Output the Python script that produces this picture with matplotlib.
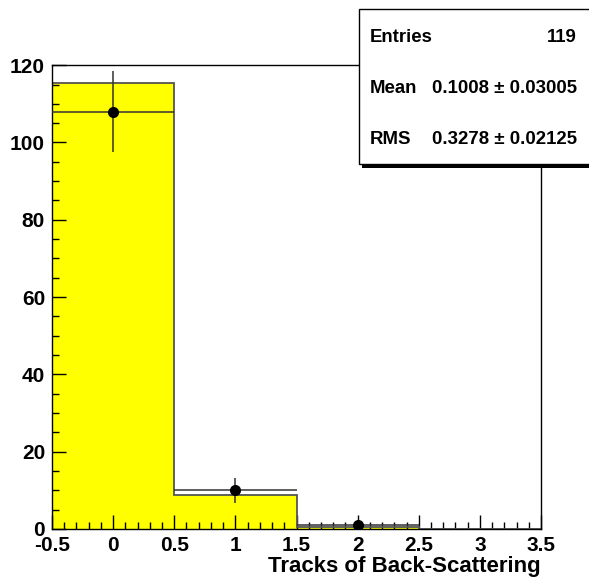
import numpy as np
import matplotlib.pyplot as plt
from matplotlib.ticker import MultipleLocator
from matplotlib.patches import Rectangle

plt.rcParams['font.family'] = ['Liberation Sans', 'DejaVu Sans']
plt.rcParams['font.weight'] = 'bold'

# histogram contents
bin_edges = [-0.5, 0.5, 1.5, 2.5, 3.5]
bin_centers = [0, 1, 2]
filled_counts = [115.3, 8.8, 0.4, 0.0]
point_counts = [108, 10, 1]

stat_labels = ["Entries", "Mean", "RMS"]
stat_values = ["119", "0.1008 \u00b1 0.03005", "0.3278 \u00b1 0.02125"]

fig = plt.figure(figsize=(5.89, 5.77), dpi=100)
ax = fig.add_axes([0.0883, 0.0832, 0.8302, 0.8038])

# yellow filled histogram
ax.stairs(filled_counts, bin_edges, fill=True, color='#ffff00', zorder=1)
ax.stairs(filled_counts, bin_edges, color='#555555', lw=1.3, zorder=2)

# points with poisson errors, x error = half bin width
yerr = np.sqrt(point_counts)
ax.errorbar(bin_centers, point_counts, xerr=0.5, yerr=yerr, fmt='o',
            color='black', ms=7, ecolor='#333333', elinewidth=1.1,
            capsize=0, zorder=3)

ax.set_xlim(-0.5, 3.5)
ax.set_ylim(0, 120)
ax.xaxis.set_minor_locator(MultipleLocator(0.1))
ax.yaxis.set_major_locator(MultipleLocator(20))
ax.yaxis.set_minor_locator(MultipleLocator(5))
ax.set_xticks([-0.5, 0, 0.5, 1, 1.5, 2, 2.5, 3, 3.5])
ax.set_xticklabels(['-0.5', '0', '0.5', '1', '1.5', '2', '2.5', '3', '3.5'])
ax.tick_params(which='both', direction='in', top=False, right=False,
               width=1.0, color='black')
ax.tick_params(axis='x', which='major', length=10, pad=5, labelsize=15)
ax.tick_params(axis='y', which='major', length=10, pad=5, labelsize=15)
ax.tick_params(which='minor', length=5)
for lab in ax.get_xticklabels() + ax.get_yticklabels():
    lab.set_fontweight('bold')
for sp in ax.spines.values():
    sp.set_linewidth(1.0)

ax.set_xlabel("Tracks of Back-Scattering", fontsize=16, fontweight='bold',
              loc='right', labelpad=1)

# statistics box with shadow
fig.patches.append(Rectangle((0.615, 0.708), 0.39, 0.273, transform=fig.transFigure,
                             facecolor='black', edgecolor='none', zorder=5))
fig.patches.append(Rectangle((0.610, 0.715), 0.40, 0.27, transform=fig.transFigure,
                             facecolor='white', edgecolor='black', lw=1.0, zorder=6))
rows_y = [0.935, 0.847, 0.759]
for lab, val, yy in zip(stat_labels, stat_values, rows_y):
    fig.text(0.628, yy, lab, fontsize=13.4, fontweight='bold', va='center', zorder=7)
    fig.text(0.98, yy, val, fontsize=13.4, fontweight='bold', va='center',
             ha='right', zorder=7)

fig.savefig("out.png", dpi=100)
